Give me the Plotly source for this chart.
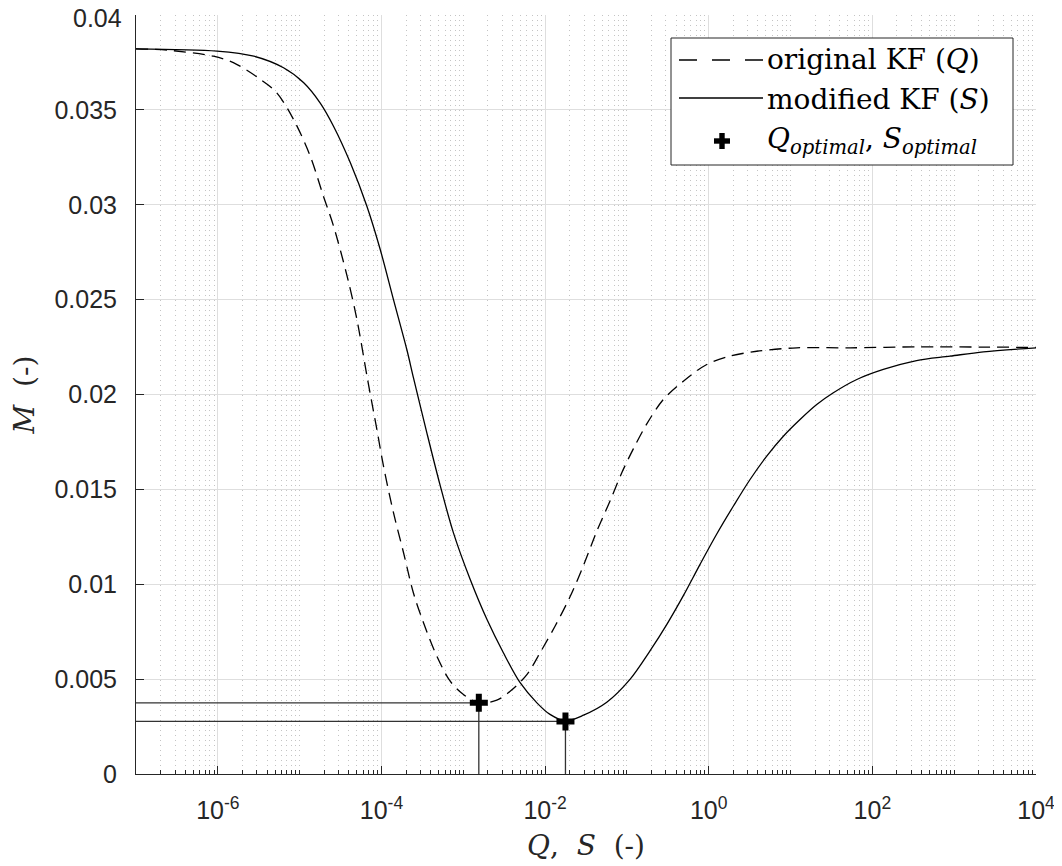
import plotly.graph_objects as go

# ---- data (x given as log10 exponents) ----
q_log = [-7.0, -6.62, -6.055, -5.81, -5.48, -5.28, -5.075, -4.87, -4.71, -4.586,
         -4.42, -4.30, -4.17, -4.056, -3.975, -3.853, -3.73, -3.61, -3.486, -3.323,
         -3.16, -2.998, -2.81, -2.59, -2.427, -2.22, -2.06, -1.877, -1.694, -1.53,
         -1.368, -1.205, -1.06, -0.92, -0.757, -0.554, -0.31, -0.024, 0.26, 0.587,
         1.076, 1.727, 2.54, 3.36, 4.0]
q_m = [0.03822, 0.03815, 0.03783, 0.03749, 0.03661, 0.0359, 0.0345, 0.03256, 0.03046, 0.02888,
       0.02624, 0.02396, 0.0208, 0.01816, 0.01622, 0.01377, 0.01166, 0.00955, 0.00797, 0.00621,
       0.00489, 0.00419, 0.00375, 0.00389, 0.00436, 0.00525, 0.00640, 0.00780, 0.00935, 0.01100,
       0.01280, 0.01440, 0.01590, 0.01715, 0.01845, 0.01974, 0.0207, 0.02158, 0.02202, 0.02228,
       0.02246, 0.02246, 0.02251, 0.0225, 0.02248]

s_log = [-7.0, -6.01, -5.56, -5.197, -4.95, -4.75, -4.586, -4.38, -4.178, -4.015,
         -3.853, -3.69, -3.61, -3.445, -3.28, -3.12, -2.915, -2.71, -2.51, -2.305,
         -2.10, -1.94, -1.751, -1.53, -1.246, -0.96, -0.716, -0.51, -0.31, -0.106,
         0.098, 0.30, 0.505, 0.709, 0.912, 1.116, 1.32, 1.523, 1.81, 2.134,
         2.54, 2.95, 3.357, 4.0]
s_m = [0.03822, 0.0381, 0.03783, 0.03722, 0.03643, 0.03537, 0.03414, 0.03221, 0.02992, 0.02764,
       0.025, 0.02237, 0.0209, 0.01798, 0.01517, 0.01271, 0.01025, 0.00814, 0.00639, 0.00481,
       0.00375, 0.00314, 0.0028, 0.0031, 0.00378, 0.00500, 0.00650, 0.00790, 0.00940, 0.01105,
       0.01265, 0.01411, 0.01552, 0.01675, 0.0178, 0.01868, 0.01947, 0.02009, 0.02079, 0.02132,
       0.02179, 0.02202, 0.02225, 0.02246]

opt_log = [-2.81, -1.751]          # Q_optimal, S_optimal (log10)
opt_m = [0.00375, 0.00277]

x_min_log, x_max_log = -7, 4
major_exp = [-6, -4, -2, 0, 2, 4]
tick_text = ["10<sup>-6</sup>", "10<sup>-4</sup>", "10<sup>-2</sup>",
             "10<sup>0</sup>", "10<sup>2</sup>", "10<sup>4</sup>"]
y_ticks = [0, 0.005, 0.01, 0.015, 0.02, 0.025, 0.03, 0.035, 0.04]
y_text = ["0", "0.005", "0.01", "0.015", "0.02", "0.025", "0.03", "0.035", "0.04"]
legend_labels = ["original KF (<i>Q</i>)", "modified KF (<i>S</i>)",
                 "<i>Q</i><sub><i>optimal</i></sub>, <i>S</i><sub><i>optimal</i></sub>"]

# ---- build ----
q_x = [10 ** e for e in q_log]
s_x = [10 ** e for e in s_log]
opt_x = [10 ** e for e in opt_log]
major_vals = [10 ** e for e in major_exp]
minor_vals = []
for d in range(x_min_log, x_max_log):
    for k in range(1, 10):
        if k == 1 and (d in major_exp or d == x_min_log):
            continue
        minor_vals.append(k * 10 ** d)

SERIF = "DejaVu Serif"
SANS = "Liberation Sans"
fig = go.Figure()

# guide lines to optimal points
for xo, mo in zip(opt_x, opt_m):
    fig.add_trace(go.Scatter(x=[10 ** x_min_log, xo, xo], y=[mo, mo, 0], mode="lines",
                             line=dict(color="#333333", width=1.3), showlegend=False,
                             hoverinfo="skip"))

fig.add_trace(go.Scatter(x=q_x, y=q_m, mode="lines", name="original KF (Q)",
                         line=dict(color="black", width=1.3, dash="12px,7px", shape="spline",
                                   smoothing=0.9), showlegend=False))
fig.add_trace(go.Scatter(x=s_x, y=s_m, mode="lines", name="modified KF (S)",
                         line=dict(color="black", width=1.3, shape="spline", smoothing=0.9),
                         showlegend=False))
fig.add_trace(go.Scatter(x=opt_x, y=opt_m, mode="markers", name="optimal",
                         marker=dict(symbol="cross", size=15, color="black"),
                         showlegend=False))

# page has an 8px body margin; plot area should sit at screen x 136..1036, y 15..774
OFF = 8
W, H = 1062 - OFF, 866 - OFF
PL, PR, PT, PB = 136, 1036, 15, 774          # screen-pixel plot box
ML, MR, MT, MB = PL - OFF, 1062 - PR, PT - OFF, 866 - PB
PW, PH = PR - PL, PB - PT


def px(xs):
    return (xs - PL) / PW


def py(ys):
    return (PB - ys) / PH


# manual legend (screen pixel positions)
shapes = [dict(type="rect", xref="paper", yref="paper", x0=px(671), x1=px(1013),
               y0=py(165), y1=py(38), line=dict(color="#262626", width=1),
               fillcolor="white", layer="above")]
shapes.append(dict(type="line", xref="paper", yref="paper", x0=px(679), x1=px(763),
                   y0=py(60), y1=py(60), line=dict(color="black", width=1.3, dash="18px,15px"),
                   layer="above"))
shapes.append(dict(type="line", xref="paper", yref="paper", x0=px(679), x1=px(763),
                   y0=py(98), y1=py(98), line=dict(color="black", width=1.3), layer="above"))
cx, cy, arm, th = 722, 141, 8, 2.7
shapes.append(dict(type="rect", xref="paper", yref="paper", x0=px(cx - arm), x1=px(cx + arm),
                   y0=py(cy + th), y1=py(cy - th), fillcolor="black", line=dict(width=0),
                   layer="above"))
shapes.append(dict(type="rect", xref="paper", yref="paper", x0=px(cx - th), x1=px(cx + th),
                   y0=py(cy + arm), y1=py(cy - arm), fillcolor="black", line=dict(width=0),
                   layer="above"))

annotations = []
for lbl, yy in zip(legend_labels, [60, 99, 140]):
    annotations.append(dict(text=lbl, xref="paper", yref="paper", x=px(765), y=py(yy),
                            xanchor="left", yanchor="middle", showarrow=False,
                            font=dict(family=SERIF, size=28, color="black")))

# top y tick label drawn as an annotation nudged down so it is not clipped by the page edge
annotations.append(dict(text=y_text[-1], xref="paper", yref="y", x=px(124), y=y_ticks[-1],
                        xanchor="right", yanchor="middle", yshift=-3, showarrow=False,
                        font=dict(family=SANS, size=25, color="#262626")))
y_text_axis = y_text[:-1] + [""]

axis_common = dict(showline=True, linecolor="#262626", linewidth=1, mirror=False,
                   ticks="inside", tickcolor="#262626", ticklen=8,
                   tickfont=dict(family=SANS, size=25, color="#262626"),
                   showgrid=True, gridcolor="#dedede", gridwidth=1, zeroline=False,
                   ticklabeloverflow="allow")

fig.update_layout(
    width=W, height=H, margin=dict(l=ML, r=MR, t=MT, b=MB, autoexpand=False),
    paper_bgcolor="white", plot_bgcolor="white",
    shapes=shapes, annotations=annotations,
    xaxis=dict(type="log", range=[x_min_log, x_max_log], tickvals=major_vals,
               ticktext=tick_text, ticklabelstandoff=14,
               minor=dict(tickvals=minor_vals, ticks="inside", ticklen=4,
                          tickcolor="#262626", showgrid=True, gridcolor="#c4c4c4",
                          griddash="1px,4px", gridwidth=1),
               title=dict(text="<i>Q</i>,&nbsp; <i>S</i>&nbsp; (-)", standoff=12,
                          font=dict(family=SERIF, size=28, color="#262626")),
               **axis_common),
    yaxis=dict(range=[0, 0.04], tickvals=y_ticks, ticktext=y_text_axis,
               ticklabelstandoff=13,
               title=dict(text="<i>M</i>&nbsp; (-)", standoff=16,
                          font=dict(family=SERIF, size=28, color="#262626")),
               **axis_common),
)

fig.write_html("out.html")
